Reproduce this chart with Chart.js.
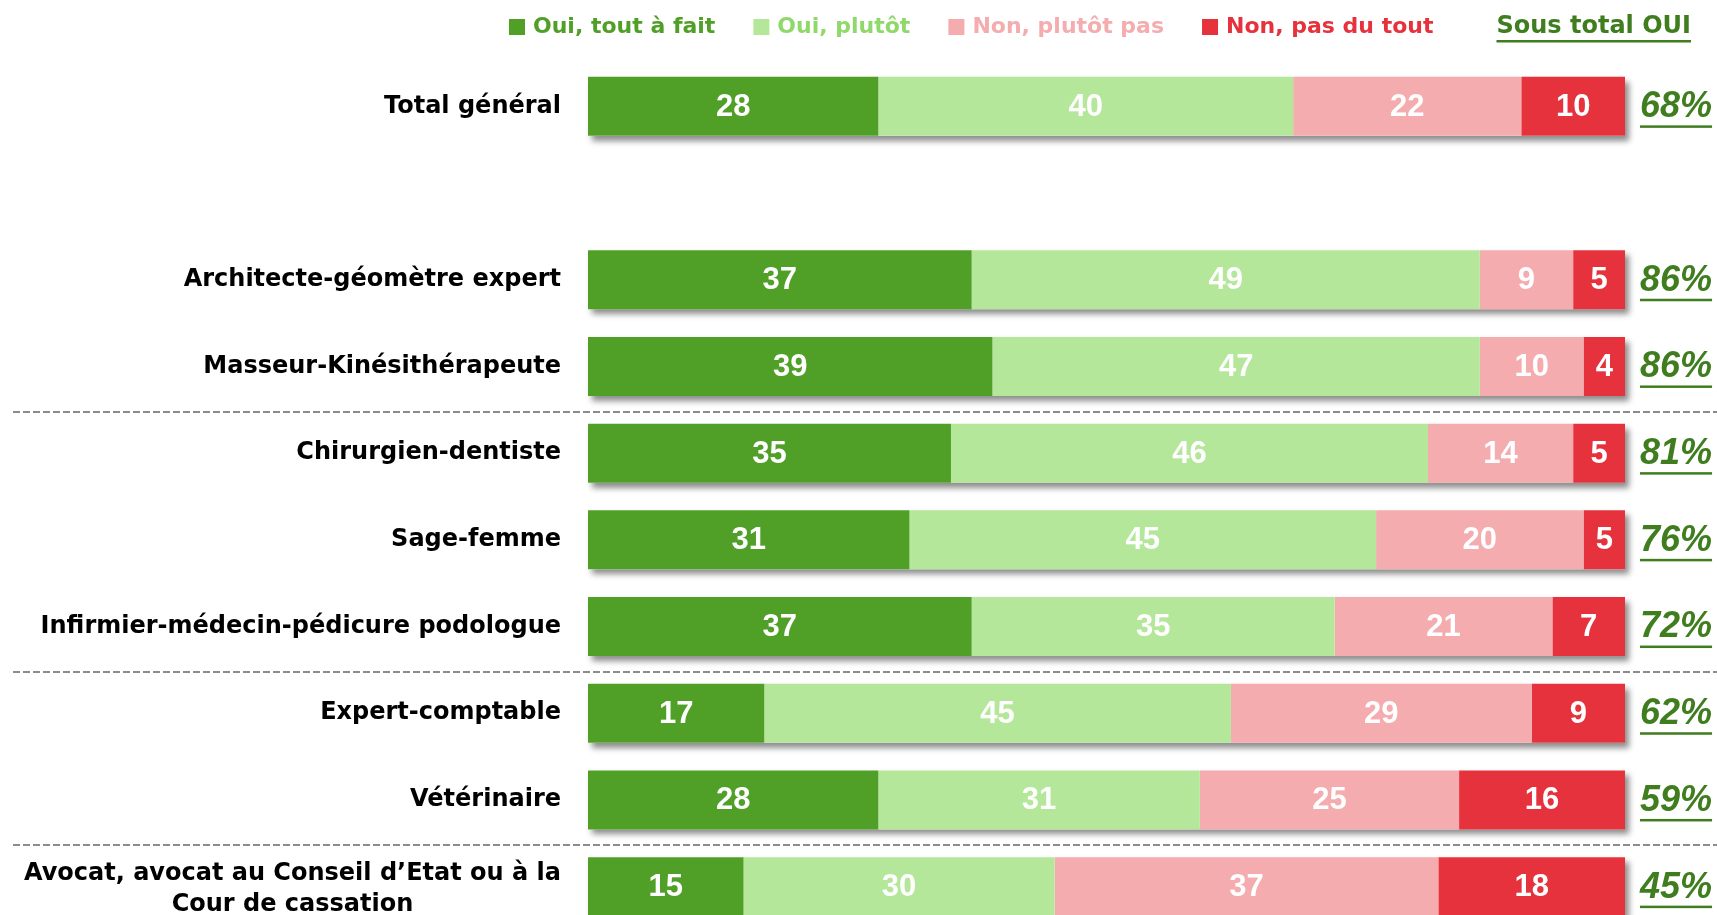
<!DOCTYPE html>
<html lang="fr">
<head>
<meta charset="utf-8">
<title>Sous total OUI par profession</title>
<script src="https://cdn.jsdelivr.net/npm/chart.js@4/dist/chart.umd.min.js"></script>
<style>
  html, body { margin: 0; padding: 0; background: #fff; overflow: hidden; }
  #wrap { width: 1717px; height: 940px; }
</style>
</head>
<body>
<div id="wrap"><canvas id="chart" width="1717" height="940"></canvas></div>
<script>
// Categories (an empty slot separates the overall total from the professions)
const categories = [
  'Total général',
  '',
  'Architecte-géomètre expert',
  'Masseur-Kinésithérapeute',
  'Chirurgien-dentiste',
  'Sage-femme',
  'Infirmier-médecin-pédicure podologue',
  'Expert-comptable',
  'Vétérinaire',
  ['Avocat, avocat au Conseil d\u2019Etat ou à la', 'Cour de cassation']
];

const seriesNames = ['Oui, tout à fait', 'Oui, plutôt', 'Non, plutôt pas', 'Non, pas du tout'];

const ouiToutAFait  = [28, null, 37, 39, 35, 31, 37, 17, 28, 15];
const ouiPlutot     = [40, null, 49, 47, 46, 45, 35, 45, 31, 30];
const nonPlutotPas  = [22, null,  9, 10, 14, 20, 21, 29, 25, 37];
const nonPasDuTout  = [10, null,  5,  4,  5,  5,  7,  9, 16, 18];

const sousTotalOui  = [68, null, 86, 86, 81, 76, 72, 62, 59, 45];
const sousTotalTitle = 'Sous total OUI';

// Dashed separators are drawn below these category indexes
const separatorsAfter = [3, 6, 8];

const barColors  = ['#50a028', '#b5e79b', '#f4acaf', '#e5323c'];
const textColors = ['#50a028', '#8fd96b', '#f4acaf', '#e5323c'];
const subtotalColor = '#3f7d1f';

const LABEL_FONT = 'bold 24px "DejaVu Sans", sans-serif';
const LEGEND_FONT = 'bold 22px "DejaVu Sans", sans-serif';
const VALUE_FONT = 'bold 31px "Liberation Sans", Arial, sans-serif';
const SUBTOTAL_FONT = 'italic bold 36px "Liberation Sans", Arial, sans-serif';

const seriesData = [ouiToutAFait, ouiPlutot, nonPlutotPas, nonPasDuTout];

// Soft drop shadow behind each whole stacked bar
const barShadow = {
  id: 'barShadow',
  beforeDatasetsDraw(chart) {
    const { ctx, chartArea, scales: { x } } = chart;
    const first = chart.getDatasetMeta(0);
    ctx.save();
    ctx.shadowColor = 'rgba(0,0,0,0.45)';
    ctx.shadowBlur = 6;
    ctx.shadowOffsetX = 4;
    ctx.shadowOffsetY = 5;
    ctx.fillStyle = '#ffffff';
    categories.forEach((_, i) => {
      if (ouiToutAFait[i] == null) return;
      const el = first.data[i];
      const total = seriesData.reduce((s, arr) => s + arr[i], 0);
      const left = x.getPixelForValue(0);
      const right = Math.min(x.getPixelForValue(total), chartArea.right);
      const h = el.height;
      ctx.fillRect(left, el.y - h / 2, right - left, h);
    });
    ctx.restore();
  }
};

// White values inside each segment
const segmentValues = {
  id: 'segmentValues',
  afterDatasetsDraw(chart) {
    const { ctx, chartArea } = chart;
    ctx.save();
    ctx.font = VALUE_FONT;
    ctx.fillStyle = '#ffffff';
    ctx.textAlign = 'center';
    ctx.textBaseline = 'middle';
    chart.data.datasets.forEach((ds, d) => {
      const meta = chart.getDatasetMeta(d);
      meta.data.forEach((el, i) => {
        const v = ds.data[i];
        if (v == null) return;
        const right = Math.min(el.x, chartArea.right);
        ctx.fillText(String(v), (el.base + right) / 2, el.y + 1);
      });
    });
    ctx.restore();
  }
};

// Category names, separators, subtotal column and legend
const decorations = {
  id: 'decorations',
  afterDraw(chart) {
    const { ctx, scales: { y } } = chart;
    const W = chart.width;

    // separators
    ctx.save();
    ctx.strokeStyle = '#8c8c8c';
    ctx.lineWidth = 2;
    ctx.setLineDash([7, 3]);
    separatorsAfter.forEach(idx => {
      const yy = Math.round((y.getPixelForValue(idx) + y.getPixelForValue(idx + 1)) / 2) + 2;
      ctx.beginPath();
      ctx.moveTo(13, yy);
      ctx.lineTo(W, yy);
      ctx.stroke();
    });
    ctx.restore();

    // category labels
    ctx.save();
    ctx.font = LABEL_FONT;
    ctx.fillStyle = '#000000';
    ctx.textBaseline = 'middle';
    const labelRight = 561;
    categories.forEach((lab, i) => {
      const cy = y.getPixelForValue(i);
      const lines = Array.isArray(lab) ? lab : [lab];
      if (!lines[0]) return;
      const maxW = Math.max(...lines.map(l => ctx.measureText(l).width));
      const cx = labelRight - maxW / 2;
      const lh = 31;
      const y0 = cy - (lines.length - 1) * lh / 2 + (lines.length > 1 ? 3 : 0);
      ctx.textAlign = 'center';
      lines.forEach((l, k) => ctx.fillText(l, cx, y0 + k * lh));
    });
    ctx.restore();

    // subtotal column
    ctx.save();
    ctx.font = SUBTOTAL_FONT;
    ctx.fillStyle = subtotalColor;
    ctx.strokeStyle = subtotalColor;
    ctx.textAlign = 'left';
    ctx.textBaseline = 'middle';
    sousTotalOui.forEach((v, i) => {
      if (v == null) return;
      const cy = y.getPixelForValue(i);
      const txt = v + '%';
      const x0 = 1640;
      ctx.fillText(txt, x0, cy + 1);
      const w = ctx.measureText(txt).width;
      ctx.fillRect(x0, cy + 19, w, 2.5);
    });
    ctx.restore();

    // legend
    ctx.save();
    ctx.font = LEGEND_FONT;
    ctx.textBaseline = 'middle';
    ctx.textAlign = 'left';
    let lx = 509;
    const ly = 27;
    seriesNames.forEach((name, k) => {
      ctx.fillStyle = barColors[k];
      ctx.fillRect(lx, ly - 8, 16, 16);
      ctx.fillStyle = textColors[k];
      ctx.fillText(name, lx + 24, ly);
      lx += 24 + ctx.measureText(name).width + 38;
    });
    ctx.font = 'bold 24px "DejaVu Sans", sans-serif';
    ctx.fillStyle = subtotalColor;
    const tw = ctx.measureText(sousTotalTitle).width;
    const tx = 1691 - tw;
    ctx.fillText(sousTotalTitle, tx, 27);
    ctx.fillRect(tx, 40, tw, 2.5);
    ctx.restore();
  }
};

new Chart(document.getElementById('chart'), {
  type: 'bar',
  data: {
    labels: categories,
    datasets: seriesNames.map((name, k) => ({
      label: name,
      data: seriesData[k],
      backgroundColor: barColors[k],
      borderWidth: 0,
      categoryPercentage: 1,
      barPercentage: 0.68,
      clip: 0
    }))
  },
  options: {
    indexAxis: 'y',
    responsive: false,
    animation: false,
    layout: { padding: { left: 588, right: 92, top: 63, bottom: 10 } },
    scales: {
      x: { stacked: true, min: 0, max: 100, display: false },
      y: { stacked: true, display: false }
    },
    plugins: {
      legend: { display: false },
      tooltip: { enabled: false }
    }
  },
  plugins: [barShadow, segmentValues, decorations]
});
</script>
</body>
</html>
